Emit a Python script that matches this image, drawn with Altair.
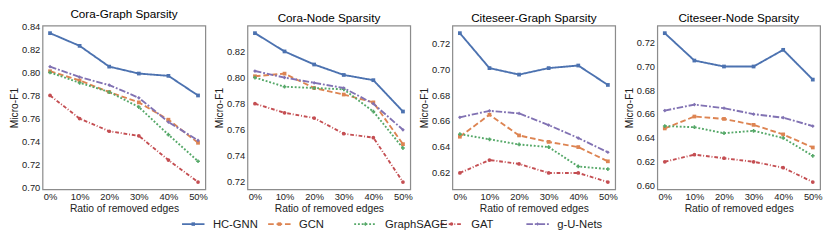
import altair as alt
import pandas as pd

ratios = [0, 10, 20, 30, 40, 50]
models = ["HC-GNN", "GCN", "GraphSAGE", "GAT", "g-U-Nets"]
colors = ["#4C72B0", "#DD8452", "#55A868", "#C44E52", "#8172B3"]
dashes = [[1, 0], [6, 3], [2, 2], [4, 2, 1, 2], [7, 2, 2, 2]]
shapes = ["square", "square", "cross", "circle", "diamond"]

panels = ["Cora-Graph Sparsity", "Cora-Node Sparsity",
          "Citeseer-Graph Sparsity", "Citeseer-Node Sparsity"]

cora_graph = {
    "HC-GNN":    [0.834, 0.823, 0.805, 0.799, 0.797, 0.780],
    "GCN":       [0.801, 0.793, 0.783, 0.774, 0.759, 0.739],
    "GraphSAGE": [0.800, 0.791, 0.783, 0.770, 0.746, 0.723],
    "GAT":       [0.780, 0.760, 0.749, 0.745, 0.724, 0.705],
    "g-U-Nets":  [0.805, 0.796, 0.789, 0.778, 0.757, 0.741],
}
cora_node = {
    "HC-GNN":    [0.834, 0.820, 0.810, 0.802, 0.798, 0.774],
    "GCN":       [0.801, 0.803, 0.792, 0.787, 0.781, 0.749],
    "GraphSAGE": [0.800, 0.793, 0.792, 0.791, 0.774, 0.746],
    "GAT":       [0.780, 0.773, 0.769, 0.757, 0.754, 0.720],
    "g-U-Nets":  [0.805, 0.800, 0.796, 0.792, 0.780, 0.760],
}
citeseer_graph = {
    "HC-GNN":    [0.728, 0.701, 0.696, 0.701, 0.703, 0.688],
    "GCN":       [0.648, 0.665, 0.649, 0.644, 0.640, 0.629],
    "GraphSAGE": [0.650, 0.646, 0.642, 0.640, 0.625, 0.623],
    "GAT":       [0.620, 0.630, 0.627, 0.620, 0.620, 0.613],
    "g-U-Nets":  [0.663, 0.668, 0.666, 0.657, 0.647, 0.636],
}
citeseer_node = {
    "HC-GNN":    [0.728, 0.705, 0.700, 0.700, 0.714, 0.689],
    "GCN":       [0.648, 0.658, 0.656, 0.651, 0.643, 0.632],
    "GraphSAGE": [0.650, 0.649, 0.644, 0.646, 0.640, 0.625],
    "GAT":       [0.620, 0.626, 0.623, 0.620, 0.615, 0.603],
    "g-U-Nets":  [0.663, 0.668, 0.665, 0.660, 0.657, 0.650],
}
y_ticks = [
    [0.70, 0.72, 0.74, 0.76, 0.78, 0.80, 0.82, 0.84],
    [0.72, 0.74, 0.76, 0.78, 0.80, 0.82],
    [0.62, 0.64, 0.66, 0.68, 0.70, 0.72],
    [0.60, 0.62, 0.64, 0.66, 0.68, 0.70, 0.72],
]
datasets = [cora_graph, cora_node, citeseer_graph, citeseer_node]

W, H = 174, 175

color_scale = alt.Scale(domain=models, range=colors)
dash_scale = alt.Scale(domain=models, range=dashes)
shape_scale = alt.Scale(domain=models, range=shapes)


def panel(title, data, ticks):
    rows = []
    for m in models:
        for r, v in zip(ratios, data[m]):
            rows.append({"model": m, "ratio": r, "value": v})
    df = pd.DataFrame(rows)
    lo, hi = df["value"].min(), df["value"].max()
    pad = (hi - lo) * 0.05
    x = alt.X("ratio:Q", title="Ratio of removed edges",
              scale=alt.Scale(domain=[-2.5, 52.5], nice=False, zero=False),
              axis=alt.Axis(values=ratios, labelExpr="datum.value + '%'"))
    y = alt.Y("value:Q", title="Micro-F1",
              scale=alt.Scale(domain=[lo - pad, hi + pad], nice=False, zero=False),
              axis=alt.Axis(values=ticks, format=".2f"))
    lines = alt.Chart(df).mark_line(strokeWidth=2).encode(
        x=x, y=y,
        color=alt.Color("model:N", scale=color_scale, legend=None),
        strokeDash=alt.StrokeDash("model:N", scale=dash_scale, legend=None))
    pts = alt.Chart(df).mark_point(filled=True, size=16, opacity=1).encode(
        x=x, y=y,
        color=alt.Color("model:N", scale=color_scale, legend=None),
        shape=alt.Shape("model:N", scale=shape_scale, legend=None))
    return alt.layer(lines, pts).properties(
        width=W, height=H,
        title=alt.TitleParams(title, fontSize=12.5, fontWeight="normal", color="#000", offset=1))


charts = [panel(t, d, tk) for t, d, tk in zip(panels, datasets, y_ticks)]
top = alt.hconcat(*charts, spacing=5)

# custom legend drawn from the model list
leg_df = pd.DataFrame({"model": models})
lx = alt.X("model:N", sort=models, axis=None,
           scale=alt.Scale(type="point", domain=models, range=[149, 517], padding=0))
leg_line = alt.Chart(leg_df).mark_rule(strokeWidth=2, x2Offset=24).encode(
    x=lx, x2="model:N", y=alt.value(7),
    color=alt.Color("model:N", scale=color_scale, legend=None),
    strokeDash=alt.StrokeDash("model:N", scale=dash_scale, legend=None))
leg_pt = alt.Chart(leg_df).mark_point(filled=True, size=14, opacity=1, xOffset=12).encode(
    x=lx, y=alt.value(7),
    color=alt.Color("model:N", scale=color_scale, legend=None),
    shape=alt.Shape("model:N", scale=shape_scale, legend=None))
leg_txt = alt.Chart(leg_df).mark_text(align="left", baseline="middle", dx=33, fontSize=12,
                                      color="#222").encode(
    x=lx, y=alt.value(7), text="model:N")
legend = alt.layer(leg_line, leg_pt, leg_txt).properties(
    width=780, height=14, view=alt.ViewBackground(stroke="transparent"))

chart = alt.vconcat(top, legend, spacing=2).configure(
    font="Liberation Sans", padding={"left": 0, "top": -8, "right": 0, "bottom": 0},
).configure_view(stroke="#8c8c8c", strokeWidth=1.3).configure_axis(
    grid=False, ticks=False, domain=False, labelFontSize=10, titleFontSize=11,
    labelColor="#222", titleColor="#222", titleFontWeight="normal", labelPadding=3,
    titlePadding=2
).configure_title(fontWeight="normal")

chart.save("out.html", embed_options={"renderer": "svg", "actions": False})
